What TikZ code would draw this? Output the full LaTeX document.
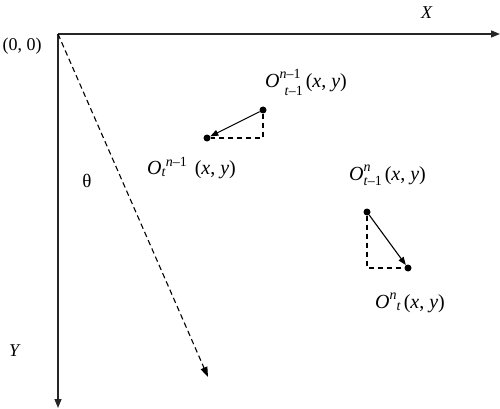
\documentclass[tikz,border=0pt]{standalone}
\usepackage{fontspec}
\setmainfont{Liberation Serif}
\usetikzlibrary{arrows.meta}
\newcommand{\iv}[1]{\textit{#1}}
\newcommand{\scr}[1]{{\fontsize{14}{14}\selectfont #1}}
\newcommand{\up}[2]{\raisebox{#1}{\scr{#2}}}
\begin{document}
\begin{tikzpicture}[x=1pt,y=-1pt,
  axis/.style={line width=1.4pt,draw=black!85,-{Triangle[length=9pt,width=7pt]}},
  dsh/.style={line width=1.1pt,dash pattern=on 5.5pt off 3.5pt},
  vec/.style={line width=1.1pt,-{Triangle[length=8pt,width=6pt]}},
  dot/.style={circle,fill=black,inner sep=0pt,minimum size=7pt},
  lbl/.style={font=\fontsize{18}{21}\selectfont,inner sep=0pt},
  olbl/.style={font=\fontsize{20}{24}\selectfont,inner sep=0pt,anchor=base west}]
\useasboundingbox (0,0) rectangle (500,409);
\coordinate (o) at (58,34);
\coordinate (xe) at (500,34);
\coordinate (ye) at (58,408);
\coordinate (de) at (208,377);
\draw[axis] (o) -- (xe);
\draw[axis] (o) -- (ye);
\draw[dsh,-{Triangle[length=10pt,width=7pt]}] (o) -- (de);
\node[lbl] (orig) at (22,46) {(0, 0)};
\node[lbl] (xl) at (427,13) {\iv{X}};
\node[lbl] (yl) at (15,351) {\iv{Y}};
\node[lbl,font=\fontsize{19}{22}\selectfont] (th) at (87,181) {θ};
% upper-left pair
\node[dot] (a1) at (263,110) {};
\node[dot] (a2) at (207,138) {};
\coordinate (ac) at (263,138);
\draw[dsh] (a1) -- (ac) -- (a2);
\draw[vec] (a1) -- (a2);
\node[olbl] (la1) at (265,88) {\iv{O}\rlap{\up{9pt}{\iv{n}–1}}\hspace{5pt}\up{-8pt}{\iv{t}–1}\hspace{3pt}(\iv{x}, \iv{y})};
\node[olbl] (la2) at (147,174) {\iv{O}\up{-2.5pt}{\iv{t}}\up{8pt}{\iv{n}–1}\hspace{8pt}(\iv{x}, \iv{y})};
% right pair
\node[dot] (b1) at (367,212) {};
\node[dot] (b2) at (408,268) {};
\coordinate (bc) at (367,268);
\draw[dsh] (b1) -- (bc) -- (b2);
\draw[vec] (b1) -- (b2);
\node[olbl] (lb1) at (349,180) {\iv{O}\rlap{\up{9pt}{\iv{n}}}\up{-5pt}{\iv{t}–1}\hspace{3pt}(\iv{x}, \iv{y})};
\node[olbl] (lb2) at (375,308) {\iv{O}\up{9pt}{\iv{n}}\up{-2.5pt}{\iv{t}}\hspace{3pt}(\iv{x}, \iv{y})};
\end{tikzpicture}
\end{document}
